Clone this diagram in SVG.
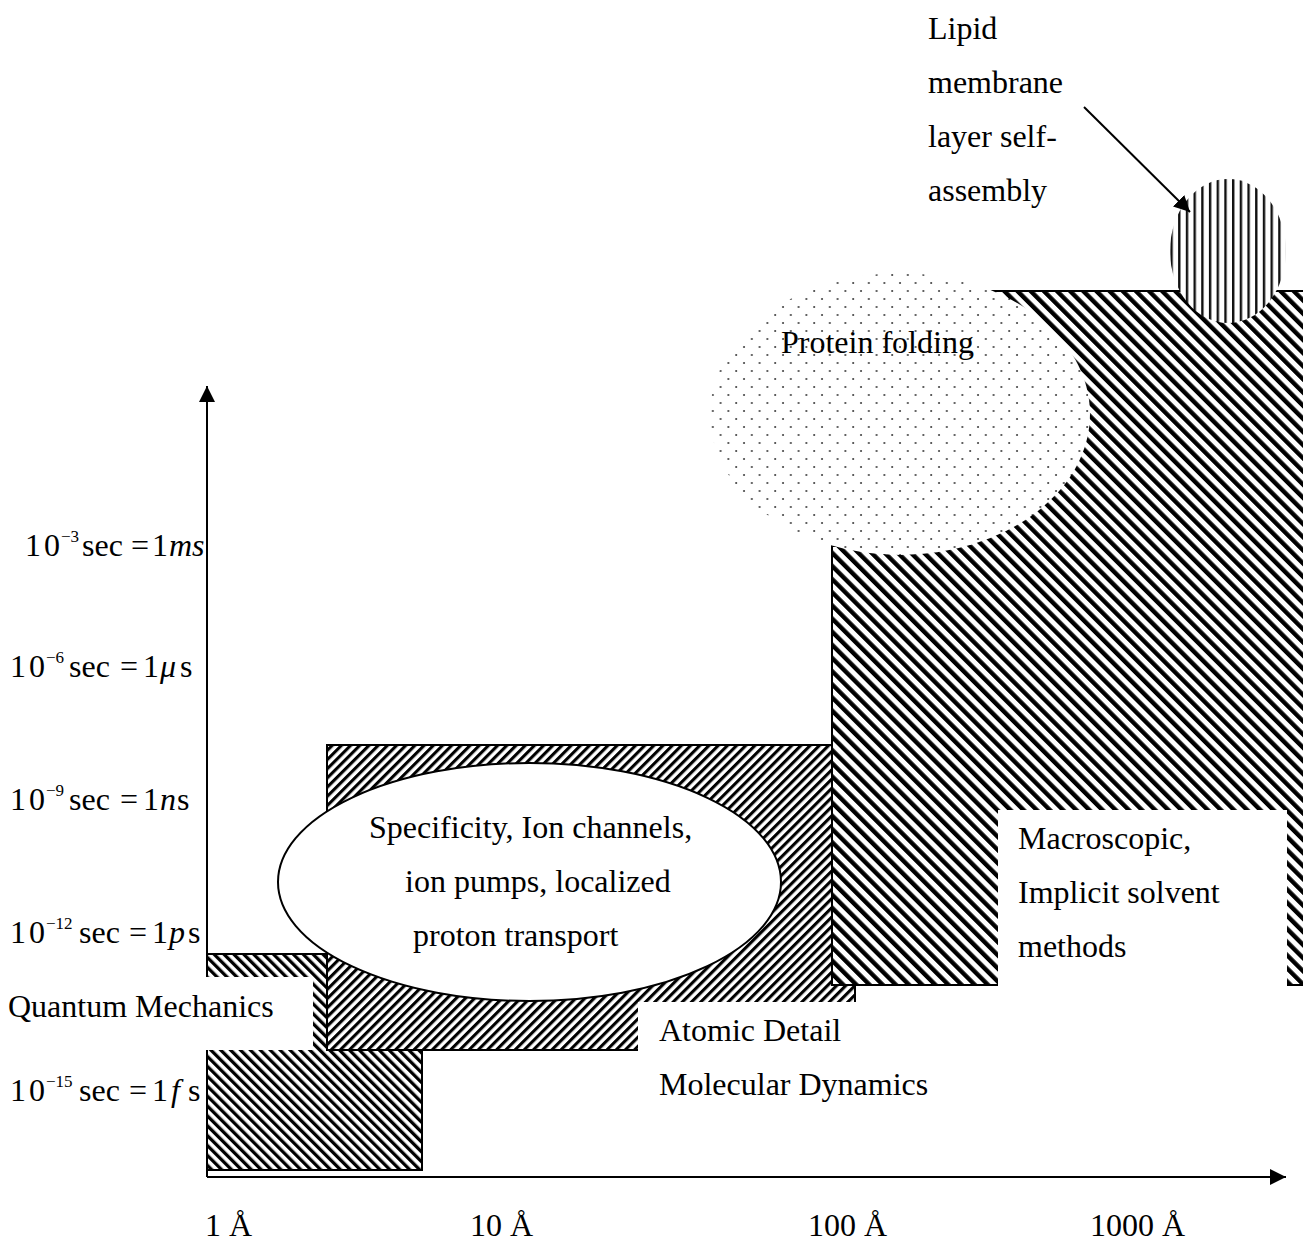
<svg xmlns="http://www.w3.org/2000/svg" width="1303" height="1245" viewBox="0 0 1303 1245">
<defs>
<style>
text { font-family: "Liberation Serif", "Times New Roman", serif; font-size: 32px; fill: #000; }
.it { font-style: italic; }
.sup { font-size: 17px; }
.num { letter-spacing: 3px; }
.box { stroke: #000; stroke-width: 2; }
.lbl { fill: #fff; stroke: none; }
.axis { stroke: #000; stroke-width: 2; fill: none; }
</style>
<pattern id="hatchQM" patternUnits="userSpaceOnUse" width="7" height="7" patternTransform="rotate(-45)">
<rect width="7" height="7" fill="#fff"/>
<rect width="3.3" height="7" fill="#000"/>
</pattern>
<pattern id="hatchAtomic" patternUnits="userSpaceOnUse" width="6.5" height="6.5" patternTransform="rotate(45)">
<rect width="6.5" height="6.5" fill="#fff"/>
<rect width="3.1" height="6.5" fill="#000"/>
</pattern>
<pattern id="hatchMacro" patternUnits="userSpaceOnUse" width="9.3" height="9.3" patternTransform="rotate(-45)">
<rect width="9.3" height="9.3" fill="#fff"/>
<rect width="4.4" height="9.3" fill="#000"/>
</pattern>
<pattern id="dots" patternUnits="userSpaceOnUse" width="15.6" height="16">
<rect width="15.6" height="16" fill="#fff"/>
<circle cx="3" cy="3" r="1" fill="#333"/>
<circle cx="10.8" cy="11" r="1" fill="#333"/>
</pattern>
<pattern id="vstripes" patternUnits="userSpaceOnUse" width="7.7" height="10">
<rect width="7.7" height="10" fill="#fff"/>
<rect width="2.4" height="10" fill="#111"/>
</pattern>
<marker id="arrowhead" markerUnits="userSpaceOnUse" markerWidth="16" markerHeight="16" viewBox="0 0 15 15" refX="15" refY="7.5" orient="auto">
<path d="M0,0 L15,7.5 L0,15 Z" fill="#000"/>
</marker>
</defs>
<rect width="1303" height="1245" fill="#fff"/>

<g id="quantum-mechanics-region">
<rect x="207" y="954" width="215" height="216" fill="url(#hatchQM)" class="box"/>
</g>
<g id="atomic-detail-region">
<rect x="327" y="745" width="528" height="305" fill="url(#hatchAtomic)" class="box"/>
</g>
<g id="macroscopic-region">
<path d="M832,985 V546 H900 V291 H1310 V985 Z" fill="url(#hatchMacro)" class="box"/>
</g>
<g id="protein-folding">
<ellipse cx="900" cy="414" rx="190" ry="141" fill="url(#dots)"/>
<text x="781" y="353">Protein folding</text>
</g>
<g id="lipid-self-assembly">
<ellipse cx="1228" cy="251" rx="58" ry="72" fill="url(#vstripes)"/>
<text x="928" y="39">Lipid</text>
<text x="928" y="93">membrane</text>
<text x="928" y="147">layer self-</text>
<text x="928" y="201">assembly</text>
</g>
<g id="specificity">
<ellipse cx="529.5" cy="882" rx="251.5" ry="119" fill="#fff" class="box"/>
<text x="369" y="838">Specificity, Ion channels,</text>
<text x="405" y="892">ion pumps, localized</text>
<text x="413" y="946">proton transport</text>
</g>

<g id="connectors">
<line class="axis" x1="207" y1="1177" x2="207" y2="386" marker-end="url(#arrowhead)"/>
<line class="axis" x1="207" y1="1177" x2="1286" y2="1177" marker-end="url(#arrowhead)"/>
<line class="axis" x1="1084" y1="107" x2="1190" y2="212" marker-end="url(#arrowhead)"/>
</g>

<g id="quantum-mechanics-label">
<rect class="lbl" x="0" y="977" width="313" height="73"/>
<text x="8" y="1017">Quantum Mechanics</text>
</g>
<g id="atomic-detail-label">
<rect class="lbl" x="638" y="1002" width="300" height="105"/>
<text x="659" y="1041">Atomic Detail</text>
<text x="659" y="1095">Molecular Dynamics</text>
</g>
<g id="macroscopic-label">
<rect class="lbl" x="998" y="810" width="289" height="180"/>
<text x="1018" y="849">Macroscopic,</text>
<text x="1018" y="903">Implicit solvent</text>
<text x="1018" y="957">methods</text>
</g>

<g id="time-axis-labels">
<text y="556"><tspan class="num" x="25">10</tspan><tspan class="sup" x="61" dy="-14">−3</tspan><tspan x="82" dy="14">sec</tspan><tspan x="131">=</tspan><tspan x="152">1</tspan><tspan class="it" x="169">ms</tspan></text>
<text y="677"><tspan class="num" x="10">10</tspan><tspan class="sup" x="46" dy="-14">−6</tspan><tspan x="69" dy="14">sec</tspan><tspan x="120">=</tspan><tspan x="143">1</tspan><tspan class="it" x="160">μ</tspan><tspan x="180">s</tspan></text>
<text y="810"><tspan class="num" x="10">10</tspan><tspan class="sup" x="46" dy="-14">−9</tspan><tspan x="69" dy="14">sec</tspan><tspan x="120">=</tspan><tspan x="143">1</tspan><tspan class="it" x="160">n</tspan><tspan x="177">s</tspan></text>
<text y="943"><tspan class="num" x="10">10</tspan><tspan class="sup" x="46" dy="-14">−12</tspan><tspan x="79" dy="14">sec</tspan><tspan x="129">=</tspan><tspan x="152">1</tspan><tspan class="it" x="169">p</tspan><tspan x="188">s</tspan></text>
<text y="1101"><tspan class="num" x="10">10</tspan><tspan class="sup" x="46" dy="-14">−15</tspan><tspan x="79" dy="14">sec</tspan><tspan x="129">=</tspan><tspan x="152">1</tspan><tspan class="it" x="171">f</tspan><tspan x="188">s</tspan></text>
</g>
<g id="length-axis-labels">
<text x="205" y="1236">1 Å</text>
<text x="470" y="1236">10 Å</text>
<text x="808" y="1236">100 Å</text>
<text x="1090" y="1236">1000 Å</text>
</g>
</svg>
